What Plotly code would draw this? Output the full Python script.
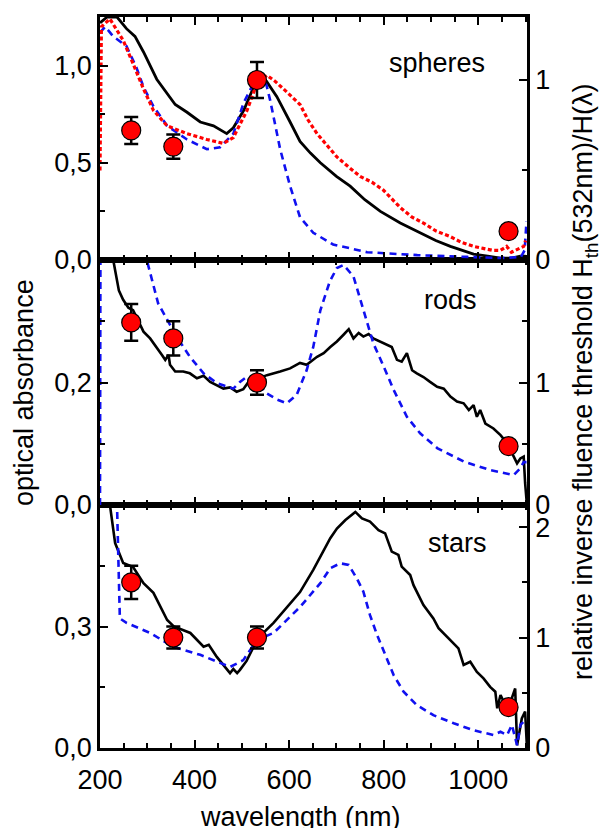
import plotly.graph_objects as go

# ---------------- data ----------------
laser_wl = [266, 355, 532, 1064]

# spheres
sph_black_wl = [200, 215, 236, 256, 274, 292, 320, 340, 359, 384, 412, 440, 468, 482, 504, 525, 540, 552, 574, 602,
                623, 645, 666, 700, 729, 760, 793, 835, 860, 884, 910, 941, 965, 990, 1020, 1047, 1070, 1089, 1100]
sph_black = [1.22, 1.25, 1.25, 1.19, 1.15, 1.07, 0.93, 0.86, 0.80, 0.76, 0.71, 0.69, 0.65, 0.68, 0.77, 0.89, 0.93, 0.92,
             0.84, 0.71, 0.61, 0.55, 0.50, 0.43, 0.38, 0.31, 0.25, 0.19, 0.16, 0.13, 0.10, 0.07, 0.05, 0.03, 0.02, 0.01,
             0.01, 0.02, 0.02]
sph_blue_wl = [200, 211, 228, 256, 277, 292, 313, 342, 384, 426, 454, 482, 504, 525, 540, 552, 560, 581, 602, 623, 651,
               693, 765, 871, 977, 1047, 1090, 1098, 1102]
sph_blue = [1.17, 1.20, 1.15, 1.10, 0.99, 0.89, 0.79, 0.69, 0.62, 0.57, 0.58, 0.65, 0.81, 0.91, 0.94, 0.90, 0.82, 0.57,
            0.38, 0.22, 0.14, 0.08, 0.04, 0.025, 0.016, 0.01, 0.015, 0.05, 0.2]
sph_red_wl = [200, 203, 221, 249, 270, 292, 313, 342, 384, 426, 461, 482, 511, 532, 553, 570, 588, 623, 640, 659, 680,
              701, 725, 750, 775, 799, 815, 835, 860, 884, 910, 941, 965, 990, 1010, 1030, 1047, 1060, 1070, 1085, 1096,
              1100]
sph_red = [0.46, 1.20, 1.24, 1.13, 1.01, 0.88, 0.77, 0.69, 0.65, 0.62, 0.60, 0.63, 0.77, 0.91, 0.95, 0.92, 0.88, 0.80,
           0.72, 0.65, 0.59, 0.53, 0.48, 0.43, 0.40, 0.36, 0.32, 0.27, 0.22, 0.19, 0.15, 0.12, 0.09, 0.07, 0.06, 0.05,
           0.05, 0.07, 0.04, 0.06, 0.07, 0.10]
sph_thr = [0.72, 0.63, 1.00, 0.16]
sph_err = [0.075, 0.067, 0.10, 0.03]

# rods
rod_black_wl = [200, 215, 228, 240, 249, 260, 270, 285, 292, 306, 320, 331, 338, 345, 348, 359, 376, 390, 405, 419,
                433, 447, 461, 475, 489, 503, 514, 530, 553, 581, 602, 623, 637, 659, 673, 687, 701, 715, 726, 736,
                747, 757, 768, 778, 800, 817, 828, 838, 849, 860, 870, 884, 898, 913, 927, 941, 955, 969, 980, 990,
                997, 1004, 1015, 1032, 1047, 1061, 1075, 1082, 1089, 1096, 1099, 1102]
rod_black = [0.75, 0.55, 0.40, 0.35, 0.335, 0.322, 0.318, 0.294, 0.283, 0.272, 0.258, 0.245, 0.237, 0.245, 0.229,
             0.218, 0.218, 0.215, 0.207, 0.211, 0.201, 0.196, 0.190, 0.192, 0.185, 0.189, 0.201, 0.205, 0.212, 0.218,
             0.223, 0.232, 0.229, 0.242, 0.248, 0.258, 0.267, 0.278, 0.287, 0.272, 0.281, 0.275, 0.279, 0.272, 0.264,
             0.258, 0.237, 0.234, 0.248, 0.220, 0.215, 0.209, 0.201, 0.193, 0.190, 0.177, 0.169, 0.166, 0.155, 0.163,
             0.144, 0.155, 0.133, 0.125, 0.114, 0.101, 0.079, 0.068, 0.076, 0.079, 0.036, 0.008]
rod_blue_wl = [200, 202, 230, 260, 280, 299, 323, 362, 390, 419, 447, 482, 496, 510, 525, 553, 575, 595, 616, 637, 651,
               666, 686, 701, 715, 736, 757, 778, 800, 821, 849, 877, 913, 969, 1025, 1075, 1089, 1096, 1102]
rod_blue = [0.0, 0.9, 0.8, 0.62, 0.50, 0.40, 0.329, 0.275, 0.242, 0.215, 0.199, 0.190, 0.201, 0.209, 0.204, 0.182,
            0.172, 0.166, 0.180, 0.220, 0.258, 0.318, 0.365, 0.387, 0.392, 0.373, 0.318, 0.264, 0.226, 0.188, 0.144,
            0.117, 0.093, 0.071, 0.057, 0.049, 0.060, 0.070, 0.07]
rod_thr = [1.49, 1.36, 1.00, 0.48]
rod_err = [0.15, 0.14, 0.10, 0.03]

# stars
star_black_wl = [200, 215, 221, 232, 249, 270, 292, 313, 342, 356, 391, 419, 430, 447, 475, 482, 490, 496, 510, 525,
                 545, 567, 595, 623, 651, 687, 701, 719, 740, 754, 771, 789, 803, 817, 831, 838, 856, 863, 884, 905,
                 916, 930, 944, 958, 969, 983, 997, 1011, 1025, 1036, 1040, 1047, 1054, 1064, 1078, 1082, 1092, 1099,
                 1103]
star_black = [0.9, 0.68, 0.60, 0.506, 0.457, 0.447, 0.407, 0.383, 0.316, 0.30, 0.284, 0.25, 0.255, 0.225, 0.185, 0.195,
              0.185, 0.193, 0.215, 0.25, 0.284, 0.309, 0.348, 0.385, 0.44, 0.518, 0.542, 0.563, 0.583, 0.567, 0.559,
              0.538, 0.530, 0.485, 0.477, 0.448, 0.427, 0.402, 0.353, 0.320, 0.296, 0.279, 0.262, 0.246, 0.205,
              0.213, 0.188, 0.172, 0.151, 0.139, 0.098, 0.131, 0.114, 0.10, 0.147, 0.007, 0.073, 0.09, 0.0]
star_blue_wl = [200, 232, 236, 240, 242, 256, 306, 355, 412, 475, 503, 532, 567, 623, 666, 687, 708, 726, 743, 757, 771,
                786, 803, 821, 842, 870, 905, 948, 990, 1032, 1047, 1061, 1071, 1082, 1089, 1096, 1100]
star_blue = [1.5, 1.0, 0.6, 0.35, 0.32, 0.309, 0.284, 0.25, 0.23, 0.20, 0.217, 0.267, 0.284, 0.348, 0.407, 0.444,
             0.456, 0.452, 0.419, 0.386, 0.328, 0.279, 0.230, 0.180, 0.139, 0.106, 0.081, 0.061, 0.044, 0.032, 0.040,
             0.032, 0.057, 0.007, 0.057, 0.065, 0.06]
star_thr = [1.50, 1.00, 1.00, 0.37]
star_err = [0.15, 0.10, 0.10, 0.03]

panel_labels = ["spheres", "rods", "stars"]

# ---------------- figure ----------------
FONT = "Liberation Sans, Arial, Helvetica, sans-serif"
FS = 27
fig = go.Figure()


def add_curve(x, y, xa, ya, color, dash, width):
    fig.add_trace(go.Scatter(x=x, y=y, xaxis=xa, yaxis=ya, mode="lines",
                             line=dict(color=color, dash=dash, width=width), showlegend=False,
                             hoverinfo="skip"))


def add_points(y, err, xa, ya):
    fig.add_trace(go.Scatter(x=laser_wl, y=y, xaxis=xa, yaxis=ya, mode="markers",
                             marker=dict(size=19, color="#ff0000", line=dict(color="black", width=1.2)),
                             error_y=dict(type="data", array=err, color="black", thickness=2.5, width=7),
                             showlegend=False, cliponaxis=False))


# top panel: spheres (x3, y5 left, y6 right)
add_curve(sph_black_wl, sph_black, "x3", "y5", "black", "solid", 2.8)
add_curve(sph_blue_wl, sph_blue, "x3", "y5", "#1010f0", "7px,5px", 2.6)
add_curve(sph_red_wl, sph_red, "x3", "y5", "#ff0000", "4px,2.5px", 3.2)
add_points(sph_thr, sph_err, "x3", "y6")

# middle panel: rods
add_curve(rod_black_wl, rod_black, "x2", "y3", "black", "solid", 2.6)
add_curve(rod_blue_wl, rod_blue, "x2", "y3", "#1010f0", "7px,5px", 2.6)
add_points(rod_thr, rod_err, "x2", "y4")

# bottom panel: stars
add_curve(star_black_wl, star_black, "x", "y", "black", "solid", 2.6)
add_curve(star_blue_wl, star_blue, "x", "y", "#1010f0", "7px,5px", 2.6)
add_points(star_thr, star_err, "x", "y2")

H = 731.0
d1 = 243 / H
d2 = (243 + 245) / H

common_x = dict(range=[200, 1103], tick0=200, dtick=200, ticks="inside", ticklen=8, tickwidth=2,
                tickcolor="black", showline=True, linecolor="black", linewidth=2.5, mirror="ticks",
                showgrid=False, zeroline=False,
                minor=dict(dtick=50, tick0=200, ticks="inside", ticklen=5, tickwidth=2, tickcolor="black"))


def yax(rng, tv, mtv, side, fmt, **kw):
    d = dict(range=rng, tickmode="array", tickvals=tv, tickformat=fmt, ticks="inside", ticklen=8, tickwidth=2,
             tickcolor="black", showline=True, linecolor="black", linewidth=2.5, showgrid=False, zeroline=False,
             side=side,
             minor=dict(tickmode="array", tickvals=mtv, ticks="inside", ticklen=5, tickwidth=2, tickcolor="black"))
    d.update(kw)
    return d


fig.update_layout(
    width=604, height=828,
    margin=dict(l=100, r=77, t=17, b=80, pad=0),
    paper_bgcolor="white", plot_bgcolor="white",
    separators=",.",
    font=dict(family=FONT, size=FS, color="black"),
    xaxis=dict(common_x, domain=[0, 1], anchor="y", ticklabelstandoff=6),
    xaxis2=dict(common_x, domain=[0, 1], anchor="y3", matches="x", showticklabels=False),
    xaxis3=dict(common_x, domain=[0, 1], anchor="y5", matches="x", showticklabels=False),
    yaxis=yax([0, 0.6], [0, 0.3], [0.15, 0.45], "left", ".1f", domain=[0, d1], anchor="x"),
    yaxis2=yax([0, 2.2], [0, 1, 2], [0.5, 1.5], "right", "d", overlaying="y", anchor="x"),
    yaxis3=yax([0, 0.4], [0, 0.2], [0.1, 0.3], "left", ".1f", domain=[d1, d2], anchor="x2"),
    yaxis4=yax([0, 2.0], [0, 1], [0.5, 1.5], "right", "d", overlaying="y3", anchor="x2"),
    yaxis5=yax([0, 1.25], [0, 0.5, 1.0], [0.25, 0.75], "left", ".1f", domain=[d2, 1], anchor="x3"),
    yaxis6=yax([0, 1.35], [0, 1], [0.5], "right", "d", overlaying="y5", anchor="x3"),
)

# panel labels
for txt, (px, py) in zip(panel_labels, [(437, 63), (450, 300), (457, 543)]):
    fig.add_annotation(text=txt, xref="paper", yref="paper", x=(px - 100) / 427.0, y=(748 - py) / H,
                       xanchor="center", yanchor="middle", showarrow=False, font=dict(size=FS))

# axis titles
fig.add_annotation(text="optical absorbance", xref="paper", yref="paper", x=(24 - 100) / 427.0,
                   y=(748 - 393) / H, textangle=-90, xanchor="center", yanchor="middle", showarrow=False,
                   font=dict(size=FS))
fig.add_annotation(text="relative inverse fluence threshold H<sub>th</sub>(532nm)/H(λ)", xref="paper",
                   yref="paper", x=(585 - 100) / 427.0, y=(748 - 382) / H, textangle=-90, xanchor="center",
                   yanchor="middle", showarrow=False, font=dict(size=FS))
fig.add_annotation(text="wavelength (nm)", xref="paper", yref="paper", x=(300 - 100) / 427.0,
                   y=(748 - 817) / H, xanchor="center", yanchor="middle", showarrow=False, font=dict(size=FS))

fig.write_html("out.html", config={"displayModeBar": False},
               post_script="document.body.style.margin='0px';document.body.style.overflow='hidden';")
